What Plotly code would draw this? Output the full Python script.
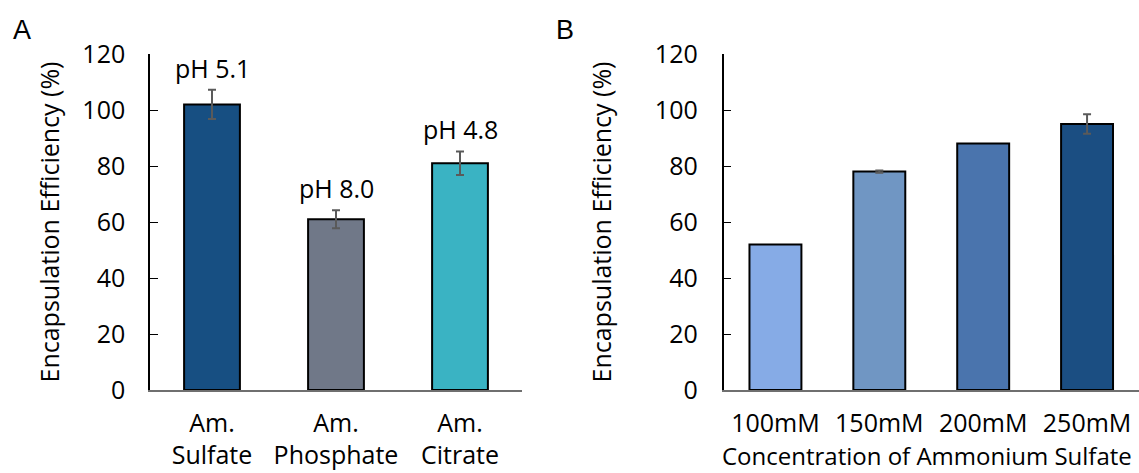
import plotly.graph_objects as go

# Panel A: encapsulation efficiency by ammonium salt
salt_labels = ["Am.<br>Sulfate", "Am.<br>Phosphate", "Am.<br>Citrate"]
salt_ee = [102, 61, 81]
salt_err = [5.2, 3.2, 4.2]
salt_ph = ["pH 5.1", "pH 8.0", "pH 4.8"]
salt_colors = ["#174f82", "#707888", "#3ab3c3"]

# Panel B: encapsulation efficiency by ammonium sulfate concentration
conc_labels = ["100mM", "150mM", "200mM", "250mM"]
conc_ee = [52, 78, 88, 95]
conc_err = [None, 0.4, None, 3.5]
conc_colors = ["#86abe6", "#7096c3", "#4a74ad", "#1b4e82"]

y_ticks = [0, 20, 40, 60, 80, 100, 120]
y_title = "Encapsulation Efficiency (%)"
x2_title = "Concentration of Ammonium Sulfate"

W, H = 1139, 473
FONT = "Open Sans"
FS = 25
ERR_STYLE = dict(type="data", color="#5a5a5a", thickness=2, width=4)

fig = go.Figure()

fig.add_trace(go.Bar(
    x=salt_labels, y=salt_ee, width=0.45,
    marker=dict(color=salt_colors, line=dict(color="black", width=2)),
    error_y=dict(array=salt_err, **ERR_STYLE),
    xaxis="x", yaxis="y",
))
fig.add_trace(go.Bar(
    x=conc_labels, y=conc_ee, width=0.5,
    marker=dict(color=conc_colors, line=dict(color="black", width=2)),
    xaxis="x2", yaxis="y2",
))
# error bars only where a spread was measured
has_err = [i for i, e in enumerate(conc_err) if e is not None]
fig.add_trace(go.Scatter(
    x=[conc_labels[i] for i in has_err], y=[conc_ee[i] for i in has_err],
    mode="markers", marker=dict(size=1, opacity=0),
    error_y=dict(array=[conc_err[i] for i in has_err], **ERR_STYLE),
    xaxis="x2", yaxis="y2", hoverinfo="skip",
))

y_dom = [1 - 390 / H, 1 - 54 / H]

common_x = dict(showline=True, linecolor="#6f6f6f", linewidth=1.5, ticks="",
                showgrid=False, zeroline=False, automargin=False, ticklabelstandoff=10,
                tickfont=dict(size=FS, color="black"))
common_y = dict(range=[0, 120], tickvals=y_ticks, ticks="inside", ticklen=8,
                tickcolor="black", tickwidth=1.2, showline=True, linecolor="black",
                linewidth=1.5, showgrid=False, zeroline=False, automargin=False,
                tickfont=dict(size=FS, color="black"))

fig.update_layout(
    width=W, height=H,
    margin=dict(l=0, r=0, t=0, b=0, autoexpand=False),
    paper_bgcolor="white", plot_bgcolor="white",
    showlegend=False,
    font=dict(family=FONT, size=FS, color="black"),
    xaxis=dict(domain=[150 / W, 522 / W], anchor="y", **common_x),
    yaxis=dict(domain=y_dom, anchor="x", ticklabelstandoff=18,
               title=dict(text=y_title, font=dict(size=FS), standoff=16), **common_y),
    xaxis2=dict(domain=[723.5 / W, 1.0], anchor="y2", **common_x),
    yaxis2=dict(domain=y_dom, anchor="x2", ticklabelstandoff=19,
                title=dict(text=y_title, font=dict(size=FS), standoff=36), **common_y),
)

# x-axis title of panel B, resting on the bottom edge
fig.add_annotation(x=927 / W, y=0, xref="paper", yref="paper", text=x2_title,
                   showarrow=False, xanchor="center", yanchor="bottom", borderpad=0,
                   font=dict(size=24, color="black"))

# pH labels above the error bars of panel A
for lab, v, e, ph in zip(salt_labels, salt_ee, salt_err, salt_ph):
    fig.add_annotation(x=lab, y=v + e, xref="x", yref="y", text=ph, showarrow=False,
                       yanchor="bottom", yshift=3, font=dict(size=FS, color="black"))

# panel letters
fig.add_annotation(x=21.7 / W, y=1 - 30 / H, xref="paper", yref="paper", text="A",
                   showarrow=False, xanchor="center", yanchor="middle",
                   font=dict(family="Liberation Sans", size=27, color="black"))
fig.add_annotation(x=565 / W, y=1 - 30 / H, xref="paper", yref="paper", text="B",
                   showarrow=False, xanchor="center", yanchor="middle",
                   font=dict(family="Liberation Sans", size=27, color="black"))

fig.write_html("out.html")
